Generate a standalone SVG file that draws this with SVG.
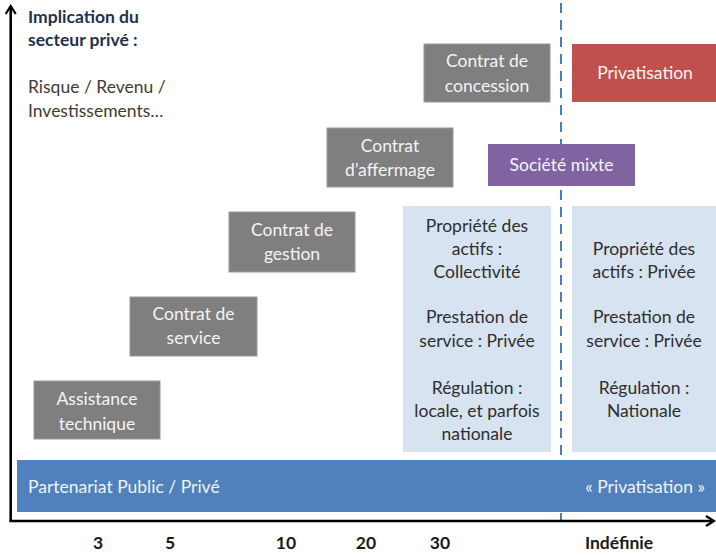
<svg xmlns="http://www.w3.org/2000/svg" width="716" height="555" viewBox="0 0 716 555">
  <defs>
    <marker id="openArrow" viewBox="0 0 12 12" refX="10" refY="6" markerWidth="12" markerHeight="12" markerUnits="userSpaceOnUse" orient="auto">
      <path d="M2,1 L10,6 L2,11" fill="none" stroke="#000" stroke-width="2.2"/>
    </marker>
  </defs>
  <style>
    text { font-family: Lato, "Open Sans", "Liberation Sans", sans-serif; font-size: 17.5px; }
    .box-grey { fill: #7f7f7f; stroke: #9a9a9a; stroke-width: 1; }
    .box-red { fill: #c0504d; }
    .box-purple { fill: #8064a2; }
    .box-pale { fill: #d7e3f0; }
    .band { fill: #4f81bd; }
    .light { fill: #f4f4f4; text-anchor: middle; }
    .dark { fill: #2e2e2e; text-anchor: middle; }
    .title { fill: #1f3050; font-weight: bold; }
    .note { fill: #3f3b33; }
    .tick { fill: #1a1a1a; font-weight: bold; text-anchor: middle; }
    .axis { stroke: #000; stroke-width: 2.6; fill: none; }
    .limit { stroke: #4a7ebb; stroke-width: 2; stroke-dasharray: 10 7; fill: none; }
  </style>

  <rect width="716" height="555" fill="#ffffff"/>

  <!-- boundary between contracts and full privatisation -->
  <g id="connectors">
    <line class="limit" x1="561" y1="3" x2="561" y2="521"/>
  </g>

  <!-- vertical axis label -->
  <g id="axis-label">
    <text class="title" x="28" y="23">Implication du</text>
    <text class="title" x="28" y="46">secteur privé :</text>
    <text class="note" x="28" y="93">Risque / Revenu /</text>
    <text class="note" x="28" y="117">Investissements…</text>
  </g>

  <g id="assistance-technique">
    <rect class="box-grey" x="34" y="381" width="126" height="58"/>
    <text class="light" x="97" y="405">Assistance</text>
    <text class="light" x="97" y="430">technique</text>
  </g>

  <g id="contrat-service">
    <rect class="box-grey" x="130" y="297" width="127" height="59"/>
    <text class="light" x="193.5" y="320">Contrat de</text>
    <text class="light" x="193.5" y="344">service</text>
  </g>

  <g id="contrat-gestion">
    <rect class="box-grey" x="229" y="212" width="126" height="60"/>
    <text class="light" x="292" y="236">Contrat de</text>
    <text class="light" x="292" y="260">gestion</text>
  </g>

  <g id="contrat-affermage">
    <rect class="box-grey" x="327" y="128" width="126" height="59"/>
    <text class="light" x="390" y="152">Contrat</text>
    <text class="light" x="390" y="176">d’affermage</text>
  </g>

  <g id="contrat-concession">
    <rect class="box-grey" x="424" y="44" width="126" height="58"/>
    <text class="light" x="487" y="67">Contrat de</text>
    <text class="light" x="487" y="92">concession</text>
  </g>

  <g id="privatisation">
    <rect class="box-red" x="572" y="44" width="144" height="58"/>
    <text class="light" x="645" y="79">Privatisation</text>
  </g>

  <g id="societe-mixte">
    <rect class="box-purple" x="488" y="144" width="147" height="42"/>
    <text class="light" x="561.5" y="171">Société mixte</text>
  </g>

  <g id="regime-contrat">
    <rect class="box-pale" x="403" y="206" width="148" height="246"/>
    <text class="dark" x="477" y="232">Propriété des</text>
    <text class="dark" x="477" y="255">actifs :</text>
    <text class="dark" x="477" y="278">Collectivité</text>
    <text class="dark" x="477" y="323">Prestation de</text>
    <text class="dark" x="477" y="347">service : Privée</text>
    <text class="dark" x="477" y="394">Régulation :</text>
    <text class="dark" x="477" y="417">locale, et parfois</text>
    <text class="dark" x="477" y="440">nationale</text>
  </g>

  <g id="regime-prive">
    <rect class="box-pale" x="572" y="206" width="144" height="246"/>
    <text class="dark" x="644" y="255">Propriété des</text>
    <text class="dark" x="644" y="278">actifs : Privée</text>
    <text class="dark" x="644" y="323">Prestation de</text>
    <text class="dark" x="644" y="347">service : Privée</text>
    <text class="dark" x="644" y="394">Régulation :</text>
    <text class="dark" x="644" y="417">Nationale</text>
  </g>

  <g id="bande-ppp">
    <rect class="band" x="17" y="460" width="699" height="52"/>
    <text fill="#f2f2f2" x="28" y="493">Partenariat Public / Privé</text>
    <text fill="#f2f2f2" x="705" y="493" text-anchor="end">« Privatisation »</text>
  </g>

  <!-- axes -->
  <g id="axes">
    <path class="axis" d="M10.7,521 L10.7,6" marker-end="url(#openArrow)"/>
    <path class="axis" d="M9.4,521 L714,521" marker-end="url(#openArrow)"/>
  </g>

  <!-- duration ticks (years) -->
  <g id="durees">
    <text class="tick" x="98" y="549">3</text>
    <text class="tick" x="170" y="549">5</text>
    <text class="tick" x="286" y="549">10</text>
    <text class="tick" x="366" y="549">20</text>
    <text class="tick" x="440" y="549">30</text>
    <text class="tick" x="619" y="549">Indéfinie</text>
  </g>
</svg>
